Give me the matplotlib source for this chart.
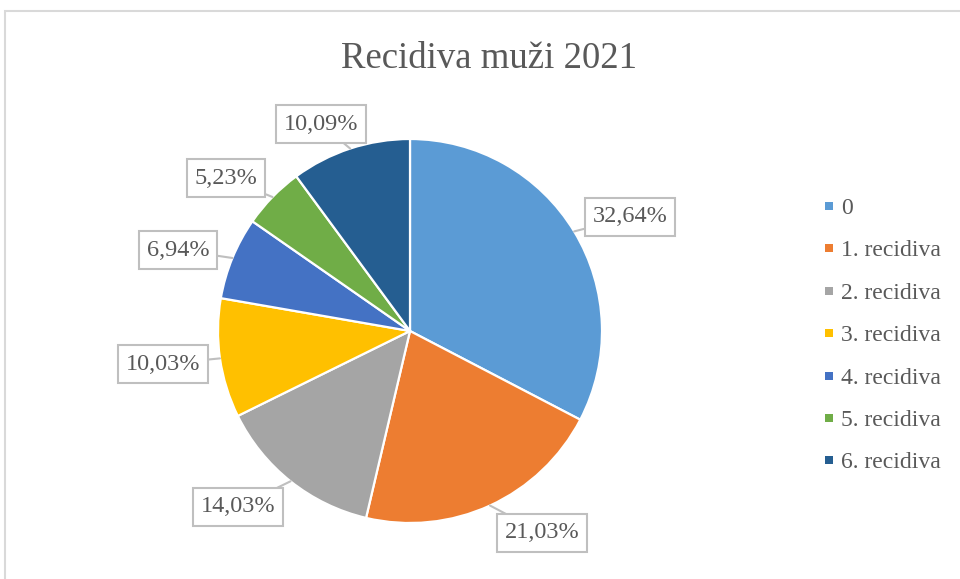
import matplotlib.pyplot as plt
from matplotlib.patches import Rectangle
import numpy as np

plt.rcParams['font.family'] = ['Liberation Serif', 'DejaVu Serif']

# data
categories = ['0', '1. recidiva', '2. recidiva', '3. recidiva',
              '4. recidiva', '5. recidiva', '6. recidiva']
shares = [32.64, 21.03, 14.03, 10.03, 6.94, 5.23, 10.09]
colors = ['#5B9BD5', '#ED7D31', '#A5A5A5', '#FFC000',
          '#4472C4', '#70AD47', '#255E91']
title = 'Recidiva muži 2021'

# layout (pixel coords, y from top)
H = 579
label_pos = [(630, 217), (542, 533), (238, 507), (163, 364),
             (178, 250), (226, 178), (321, 124)]
cx, cy, r = 410, H - 331, 192
text_col = '#595959'
line_col = '#BFBFBF'

fig = plt.figure(figsize=(9.6, 5.79), dpi=100)
ax = fig.add_axes([0, 0, 1, 1])

wedges, _ = ax.pie(shares, colors=colors, startangle=90, counterclock=False,
                   center=(cx, cy), radius=r,
                   wedgeprops=dict(edgecolor='white', linewidth=1.6))
ax.set_xlim(0, 960)
ax.set_ylim(0, H)
ax.axis('off')

# chart border (cropped at right/bottom)
ax.add_patch(Rectangle((5, -20), 1000, H - 11 + 20, fill=False,
                       edgecolor='#D9D9D9', linewidth=1.5))

# data labels with callout lines
for w, v, (lx, ly) in zip(wedges, shares, label_pos):
    mid = np.deg2rad((w.theta1 + w.theta2) / 2)
    ex, ey = cx + r * np.cos(mid), cy + r * np.sin(mid)
    txt = f'{v:.2f}%'.replace('.', ',')
    ax.annotate(txt, xy=(ex, ey), xytext=(lx, H - ly),
                ha='center', va='center', fontsize=17.5, color=text_col,
                bbox=dict(boxstyle='square,pad=0.33', facecolor='white',
                          edgecolor=line_col, linewidth=1.5),
                arrowprops=dict(arrowstyle='-', color=line_col, lw=1.5,
                                shrinkA=0, shrinkB=0))

# title
ax.text(489, H - 68, title, ha='center', va='baseline',
        fontsize=26.5, color=text_col)

# legend
leg_y = [206, 248, 291, 333, 376, 418, 460]
for cat, col, y in zip(categories, colors, leg_y):
    ax.scatter([829], [H - y], marker='s', s=30, color=col, linewidths=0)
    ax.text(841, H - y - 8, cat, ha='left', va='baseline',
            fontsize=17, color=text_col)

plt.savefig('out.png', dpi=100)
